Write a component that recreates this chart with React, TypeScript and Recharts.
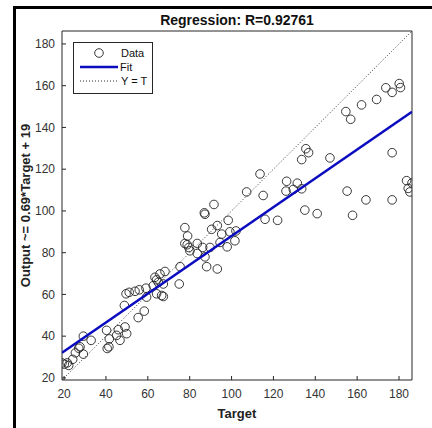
import { ScatterChart, Scatter, XAxis, YAxis, Legend } from "recharts"

// values (target, network output)
const targets = [
  19, 20.1, 21.5, 22.2, 24.1, 25.4, 27.6, 27, 29.2, 29.2, 32.9, 40.3, 40.6, 41.4, 41.6, 45.1, 45.9, 46.7, 49.1, 49.9,
  48.8, 49.6, 51.1, 53.9, 55.9, 59.1, 55.4, 58.3, 59.4, 62.6, 63.4, 64.2, 65, 65.8, 68.2, 67.4, 66.6, 67.4, 64.2, 75,
  75.4, 77.7, 79, 77.7, 78.8, 79.6, 80.1, 83.6, 86.2, 89.7, 83.6, 87.3, 88.1, 93.2, 87, 87.3, 91.6, 98.4, 93.2, 90.5,
  95.3, 99.2, 102.1, 94.5, 97.9, 101.6, 107.2, 113.6, 115.1, 116, 122, 126.3, 131.4, 126, 129.5, 133.5, 133.5, 135.5,
  136.8, 147, 135, 140.9, 154.6, 156.9, 162.1, 169.3, 173.7, 176.7, 180.1, 180.7, 155.2, 157.8, 164.2, 176.7, 176.7,
  183.6, 186.2, 184.4, 185.2,
]
const outputs = [
  27.2, 26.6, 27.2, 26, 28.9, 32, 34.9, 34.2, 31.4, 40, 38, 42.8, 34.1, 34.9, 38.7, 40.4, 43.1, 38, 44.4, 41.2,
  54.7, 60.3, 61, 61.5, 62.2, 63, 48.9, 52, 58.7, 64.2, 68.2, 67, 65.8, 69.8, 71, 65, 59.5, 59, 60.3, 65,
  73.3, 92, 88, 84.4, 83.8, 82.5, 80.9, 84.4, 82.5, 82.5, 79.6, 78, 73.3, 72.2, 99.1, 98.4, 103.1, 95.5, 93, 91.2,
  88.9, 90, 90.4, 84.9, 82.8, 85.7, 109.1, 117.7, 107.4, 96, 95.5, 114.2, 113.3, 109.5, 110.3, 110.6, 124.6, 129.8,
  127.9, 125.4, 100.4, 98.7, 147.6, 143.9, 150.8, 153.4, 159, 156.8, 161, 159.1, 109.5, 97.9, 105.3, 127.9, 105.3,
  114.5, 113.4, 110.8, 109.1,
]

// fit line ends: Output ~= 0.69*Target + 19
const fitTargets = [19, 186.2]
const fitOutputs = [32.1, 147.5]
// Y = T reference ends
const identityEnds = [19, 186.2]

const axisTicks = [20, 40, 60, 80, 100, 120, 140, 160, 180]
const axisLimits: [number, number] = [19, 186.2]

const dataPoints = targets.map((t, i) => ({ x: t, y: outputs[i] }))
const fitPoints = fitTargets.map((t, i) => ({ x: t, y: fitOutputs[i] }))
const identityPoints = identityEnds.map((v) => ({ x: v, y: v }))

const font = "'Liberation Sans', Arial, Helvetica, sans-serif"
const axisColor = "#262626"
const dotColor = "#333"

function LegendBox() {
  const row = { display: "flex", alignItems: "center", height: 14 }
  return (
    <div
      style={{
        width: 80,
        height: 52,
        boxSizing: "border-box",
        border: `1px solid ${axisColor}`,
        background: "#fff",
        fontFamily: font,
        fontSize: 11,
        color: "#111",
        paddingTop: 3,
      }}
    >
      <div style={row}>
        <svg width={47} height={14}>
          <circle cx={25} cy={7} r={4.3} fill="none" stroke="#222" strokeWidth={0.9} />
        </svg>
        <span>Data</span>
      </div>
      <div style={row}>
        <svg width={46} height={14}>
          <line x1={6} y1={7} x2={44} y2={7} stroke="#0b0bbf" strokeWidth={2.5} />
        </svg>
        <span>Fit</span>
      </div>
      <div style={row}>
        <svg width={47} height={14}>
          <line x1={6} y1={7} x2={45} y2={7} stroke={dotColor} strokeWidth={1} strokeDasharray="1 2" />
        </svg>
        <span>Y = T</span>
      </div>
    </div>
  )
}

export default function App() {
  return (
    <div style={{ position: "absolute", left: 0, top: 0, width: 432, height: 428, background: "#fff" }}>
      <div style={{ position: "absolute", left: 13, top: 6, width: 419, height: 3, background: "#000" }} />
      <div style={{ position: "absolute", left: 13, top: 6, width: 3, height: 422, background: "#000" }} />
      <ScatterChart
        width={432}
        height={428}
        margin={{ top: 11, right: 10, bottom: 8, left: 12 }}
        style={{ fontFamily: font }}
      >
        <XAxis
          xAxisId="b"
          type="number"
          dataKey="x"
          domain={axisLimits}
          ticks={axisTicks}
          allowDataOverflow
          height={40}
          tickSize={-4}
          tickMargin={13}
          stroke={axisColor}
          tick={{ fill: "#333", fontSize: 12 }}
          label={{ value: "Target", position: "insideBottom", offset: 2, fontWeight: "bold", fontSize: 13, fill: "#222" }}
        />
        <XAxis
          xAxisId="t"
          orientation="top"
          type="number"
          dataKey="x"
          domain={axisLimits}
          ticks={axisTicks}
          allowDataOverflow
          height={20}
          tickSize={-4}
          stroke={axisColor}
          tick={false}
          label={{ value: "Regression: R=0.92761", position: "insideTop", offset: 4, fontWeight: "bold", fontSize: 14, fill: "#111" }}
        />
        <YAxis
          yAxisId="l"
          type="number"
          dataKey="y"
          domain={axisLimits}
          ticks={axisTicks}
          allowDataOverflow
          width={50}
          tickSize={-4}
          tickMargin={11}
          stroke={axisColor}
          tick={{ fill: "#333", fontSize: 12 }}
          label={{
            value: "Output ~= 0.69*Target + 19",
            angle: -90,
            position: "center",
            dx: -12,
            fontWeight: "bold",
            fontSize: 13,
            fill: "#222",
          }}
        />
        <YAxis
          yAxisId="r"
          orientation="right"
          type="number"
          dataKey="y"
          domain={axisLimits}
          ticks={axisTicks}
          allowDataOverflow
          width={10}
          tickSize={-4}
          stroke={axisColor}
          tick={false}
        />
        <Legend
          layout="vertical"
          align="center"
          verticalAlign="middle"
          content={() => <LegendBox />}
          wrapperStyle={{ left: 73, top: 42, width: 80, height: 52 }}
        />
        <Scatter
          name="Y = T"
          xAxisId="b"
          yAxisId="l"
          data={identityPoints}
          line={{ stroke: dotColor, strokeWidth: 1, strokeDasharray: "1 2" }}
          shape={() => <g />}
          isAnimationActive={false}
        />
        <Scatter
          name="Data"
          xAxisId="b"
          yAxisId="l"
          data={dataPoints}
          shape={(p: any) => <circle cx={p.cx} cy={p.cy} r={4.3} fill="none" stroke="#222" strokeWidth={0.9} />}
          isAnimationActive={false}
        />
        <Scatter
          name="Fit"
          xAxisId="b"
          yAxisId="l"
          data={fitPoints}
          line={{ stroke: "#0b0bbf", strokeWidth: 2.5 }}
          shape={() => <g />}
          isAnimationActive={false}
        />
      </ScatterChart>
    </div>
  )
}
